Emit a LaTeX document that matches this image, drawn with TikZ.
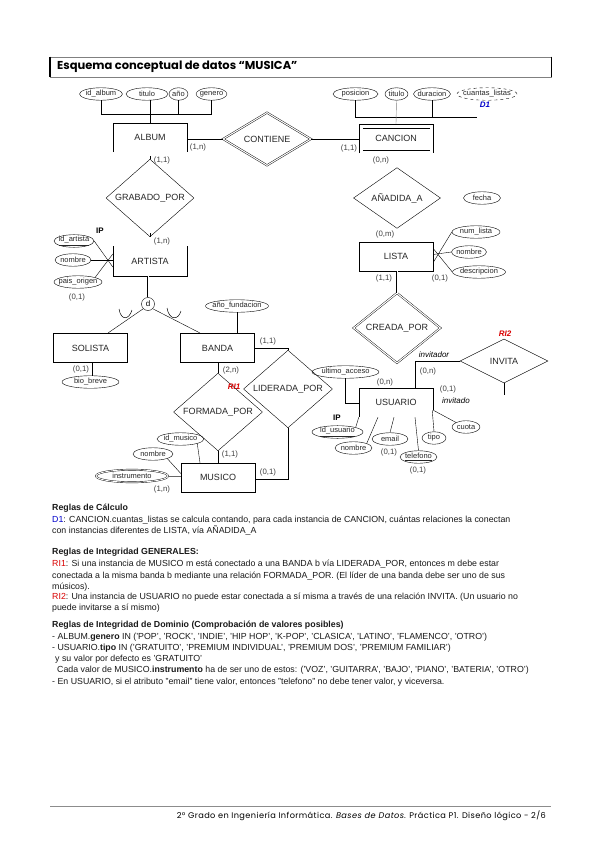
\documentclass[tikz,border=0pt]{standalone}
\usepackage{fontspec}
\setmainfont{Liberation Sans}
\newfontfamily\titlefont{Poppins}
\newfontfamily\footfont[LetterSpace=5]{Poppins}
\usetikzlibrary{shapes.geometric}
\newcommand\atx[1]{\makebox[0pt][c]{#1}}
\begin{document}
\begin{tikzpicture}[x=1pt,y=-1pt,
  lbl/.style={font=\fontsize{9}{10}\selectfont, text=black!85},
  ent/.style={rectangle, draw, minimum width=74pt, minimum height=29pt, inner sep=0pt, lbl},
  entopen/.style={rectangle, minimum width=74pt, minimum height=29pt, inner sep=0pt, lbl},
  rel/.style={diamond, draw, inner sep=0pt, lbl},
  wrel/.style={rel, double, double distance=1.1pt},
  attr/.style={ellipse, draw, inner sep=0pt, minimum height=12.5pt, font=\fontsize{7.5}{8}\selectfont, text=black!85},
  card/.style={font=\fontsize{7.8}{9}\selectfont, text=black!75, inner sep=0pt},
  txt/.style={anchor=base west, font=\fontsize{8.8}{10}\selectfont, inner sep=0pt, text=black!90},
  cup/.style={line width=0.5pt}
]
\useasboundingbox (0,0) rectangle (599,848);
\fill[white] (0,0) rectangle (599,848);

% title
\node[draw=black!50, line width=0.6pt, minimum width=501pt, minimum height=20pt, inner sep=0pt] (tbox) at (300.5,67) {};
\draw[line width=1.6pt] (tbox.north west) -- (tbox.south west);
\draw[line width=1.4pt] (tbox.north east) -- (tbox.south east);
\node[anchor=west, inner sep=0pt, font=\titlefont\bfseries\fontsize{11.5}{13}\selectfont] (title) at (57,67) {Esquema conceptual de datos “MUSICA”};

% ---------- ALBUM
\node[entopen] (album) at (150,137.5) {ALBUM};
\draw (album.south west) -- (album.north west) -- (album.north east) -- (album.south east);
\node[attr, minimum width=43pt] (ida) at (101,94) {\atx{id\_album}};
\node[attr, minimum width=42pt] (atit) at (147,94) {\atx{titulo}};
\node[attr, minimum width=19pt] (ano) at (178.5,94) {\atx{año}};
\node[attr, minimum width=31pt] (gen) at (211.5,94) {\atx{genero}};
\coordinate (ah1) at (101,114);
\coordinate (ah2) at (211.5,114);
\coordinate (ah3) at (150,114);
\draw (ida.south) -- (ah1) -- (ah2);
\draw (ano.south) -- (ano.south |- ah1);
\draw (gen.south) -- (ah2);
\draw (atit.south -| ah3) -- (album.north);

% ---------- CONTIENE
\node[wrel, minimum width=88pt, minimum height=30pt] (contiene) at (267,139) {CONTIENE};
\draw (album.east |- contiene.west) -- (contiene.west);

% ---------- CANCION
\node[entopen] (cancion) at (396,138.5) {CANCION};
\draw (cancion.south west) -- (cancion.north west) -- (cancion.north east) -- (cancion.south east);
\draw ([xshift=4pt,yshift=-4pt]cancion.north west) -- ([xshift=-3pt,yshift=-4pt]cancion.north east);
\draw ([xshift=4pt,yshift=3pt]cancion.south west) -- ([xshift=-3pt,yshift=3pt]cancion.south east);
\draw (contiene.east) -- (contiene.east -| cancion.west);
\node[attr, minimum width=45pt] (pos) at (355.5,94) {\atx{posicion}};
\node[attr, minimum width=23pt] (ctit) at (396.5,94) {\atx{titulo}};
\node[attr, minimum width=37pt] (dur) at (432,94) {\atx{duracion}};
\node[attr, dashed, minimum width=60pt] (cl) at (487,94) {\atx{cuantas\_listas}};
\coordinate (ch1) at (355.5,117);
\coordinate (ch2) at (477,117);
\draw (pos.south) -- (ch1) -- (ch2);
\draw (dur.south) -- (dur.south |- ch1);
\draw[black!50] (ctit.south) -- (cancion.north);
\node[font=\bfseries\itshape\fontsize{8}{9}\selectfont, text=blue!80!black, inner sep=0pt] (d1) at (485,105) {D1};

\node[card] (c1) at (198,147) {(1,n)};
\node[card] (c2) at (349,148) {(1,1)};
\node[card] (c3) at (381,160) {(0,n)};

% ---------- GRABADO_POR
\node[rel, minimum width=88pt, minimum height=44pt] (grabado) at (150,198) {GRABADO\_POR};
\coordinate (gtop) at (150,156);
\coordinate (gbot) at (150,233);
\draw (gtop) -- (grabado.north);
\draw (grabado.south) -- (gbot);
\node[card] (c4) at (162,160) {(1,1)};
\node[card] (c5) at (162,241) {(1,n)};

% ---------- ARTISTA
\node[entopen] (artista) at (150,261) {ARTISTA};
\draw (artista.north west) -- (artista.south west) -- (artista.south east) -- (artista.north east);
\node[font=\bfseries\fontsize{8}{9}\selectfont, inner sep=0pt] (ip1) at (100,231) {IP};
\node[attr, minimum width=40pt] (idar) at (74,241) {\atx{\underline{id\_artista}}};
\node[attr, minimum width=36pt] (nomar) at (73,260) {\atx{nombre}};
\node[attr, minimum width=48pt] (pais) at (78,282) {\atx{pais\_origen}};
\node[card] (c6) at (77,297) {(0,1)};
\draw (idar.east) -- ([yshift=-6pt]artista.west);
\draw[line width=0.9pt] (nomar.east) -- (nomar.east -| artista.west);
\draw (pais.north east) -- ([yshift=7pt]artista.west);

% specialization
\node[circle, draw, minimum size=13pt, inner sep=0pt, font=\fontsize{8}{9}\selectfont] (dcirc) at (148,304) {d};
\draw[double, double distance=1pt] (dcirc.north |- artista.south) -- (dcirc.north);
\node[ent] (solista) at (90.5,348) {SOLISTA};
\node[ent] (banda) at (217.5,348) {BANDA};
\coordinate (sp1) at (108,333);
\coordinate (sp2) at (200,333);
\draw (dcirc.south west) -- (sp1);
\draw (dcirc.south east) -- (sp2);
\draw[cup] (119,309) .. controls (121,321) and (129,320) .. (132,310);
\draw[cup] (167,308) .. controls (169,320) and (178,321) .. (181,311);

\node[card] (c7) at (81,369) {(0,1)};
\node[attr, minimum width=57pt] (bio) at (90.5,382) {\atx{bio\_breve}};
\coordinate (sb) at (92,363);
\draw (sb) -- (sb |- bio.north);

\node[attr, minimum width=63pt] (afun) at (237,306) {\atx{año\_fundacion}};
\draw[line width=0.9pt] (afun.south) -- (afun.south |- banda.north);

% LIDERADA_POR
\node[rel, minimum width=89pt, minimum height=43pt] (liderada) at (288,389) {LIDERADA\_POR};
\node[card] (c8) at (268,341) {(1,1)};
\draw (banda.east) -| (liderada.north);

% FORMADA_POR
\node[rel, minimum width=89pt, minimum height=45pt] (formada) at (218,412) {FORMADA\_POR};
\node[card] (c9) at (231,370) {(2,n)};
\node[font=\bfseries\itshape\fontsize{8}{9}\selectfont, text=red!85!black, inner sep=0pt] (ri1) at (234,387) {RI1};
\draw (formada.north |- banda.south) -- (formada.north);

% MUSICO
\node[ent] (musico) at (218,477.5) {MUSICO};
\draw (formada.south) -- (musico.north);
\node[card] (c10) at (230,454) {(1,1)};
\draw (liderada.south) |- ([yshift=-2pt]musico.east);
\node[card] (c11) at (268,472) {(0,1)};
\node[attr, minimum width=47pt] (idmu) at (180.5,439) {\atx{id\_musico}};
\node[attr, minimum width=40pt] (nommu) at (153,454) {\atx{nombre}};
\node[attr, double, double distance=0.9pt, minimum width=72pt] (instr) at (132,476) {\atx{instrumento}};
\node[card] (c12) at (162,489) {(1,n)};
\draw (idmu.south east) -- ([xshift=-18pt]musico.north);
\draw (nommu.south east) -- ([yshift=4pt]musico.west);
\draw[black!60] (instr.east) -- (instr.east -| musico.west);

% ---------- AÑADIDA_A
\node[rel, minimum width=87pt, minimum height=44pt] (anadida) at (397,198) {AÑADIDA\_A};
\node[attr, minimum width=37pt] (fecha) at (482,198) {\atx{fecha}};

% ---------- LISTA
\node[ent] (lista) at (396,256.5) {LISTA};
\node[card] (c13) at (385,234) {(0,m)};
\node[card] (c14) at (384,278) {(1,1)};
\node[card] (c15) at (440,278) {(0,1)};
\node[attr, minimum width=48pt] (numl) at (476,232) {\atx{num\_lista}};
\node[attr, minimum width=35pt] (noml) at (469,252) {\atx{nombre}};
\node[attr, minimum width=53pt] (desc) at (479,272) {\atx{descripcion}};
\draw ([yshift=-6pt]lista.east) -- (numl.west);
\draw ([yshift=2pt]lista.east) -- (noml.west);
\draw ([yshift=8pt]lista.east) -- (desc.west);

% CREADA_POR
\node[wrel, minimum width=87pt, minimum height=40pt] (creada) at (397,328) {CREADA\_POR};
\draw[double, double distance=1pt] (creada.north |- lista.south) -- (creada.north);

% ---------- INVITA
\node[rel, minimum width=88pt, minimum height=44pt] (invita) at (504,361) {INVITA};
\node[font=\bfseries\itshape\fontsize{8}{9}\selectfont, text=red!85!black, inner sep=0pt] (ri2) at (505,334) {RI2};
\coordinate (istub) at (504,395);
\draw (invita.south) -- (istub);

% ---------- USUARIO
\node[entopen] (usuario) at (396,402.5) {USUARIO};
\draw (usuario.south west) -- (usuario.north west) -- (usuario.north east) -- ([yshift=7pt]usuario.south east);
\coordinate (ibend) at (415,361);
\draw (invita.west) -- (ibend) -- (ibend |- usuario.north);
\node[font=\itshape\fontsize{8}{9}\selectfont, inner sep=0pt] (invr) at (434,355) {invitador};
\node[card] (c16) at (428,371) {(0,n)};
\node[card] (c17) at (448,389) {(0,1)};
\node[font=\itshape\fontsize{8}{9}\selectfont, inner sep=0pt] (invd) at (456,401) {invitado};
\node[card] (c18) at (385,382) {(0,n)};

\node[attr, minimum width=67pt] (ult) at (345.5,372) {\atx{ultimo\_acceso}};
\coordinate (ub) at (345.5,403);
\draw (ult.south) -- (ub) -- (ub -| usuario.west);
\node[font=\bfseries\fontsize{8}{9}\selectfont, inner sep=0pt] (ip2) at (337,418) {IP};
\node[attr, minimum width=51pt] (idus) at (337.5,432) {\atx{\underline{id\_usuario}}};
\node[attr, minimum width=37pt] (nomus) at (353.5,448) {\atx{nombre}};
\node[attr, minimum width=36pt] (email) at (390,439) {\atx{email}};
\node[attr, minimum width=37pt] (tel) at (418.5,457) {\atx{\underline{telefono}}};
\node[attr, minimum width=24pt] (tipo) at (434,438) {\atx{tipo}};
\node[attr, minimum width=28pt] (cuota) at (466,427) {\atx{cuota}};
\node[card] (c19) at (389,452) {(0,1)};
\node[card] (c20) at (418,470) {(0,1)};
\draw (idus.north east) -- (usuario.south west);
\draw (nomus.north east) -- ([xshift=-18pt]usuario.south);
\draw (email.north) -- ([xshift=-2pt]usuario.south);
\draw (tel.north) -- ([xshift=19pt]usuario.south);
\draw (tipo.north) -- ([xshift=-1pt, yshift=7pt]usuario.south east);
\draw (cuota.north west) -- ([yshift=7pt]usuario.south east);

% ---------- text block
\node[txt] (t1) at (52,510) {\textbf{Reglas de Cálculo}};
\node[txt] (t2) at (52,522) {\textcolor{blue!80!black}{D1}: CANCION.cuantas\_listas se calcula contando, para cada instancia de CANCION, cuántas relaciones la conectan};
\node[txt] (t3) at (52,533) {con instancias diferentes de LISTA, vía AÑADIDA\_A};
\node[txt] (t4) at (52,554) {\textbf{Reglas de Integridad GENERALES:}};
\node[txt] (t5) at (52,566) {\textcolor{red!85!black}{RI1}: Si una instancia de MUSICO m está conectado a una BANDA b vía LIDERADA\_POR, entonces m debe estar};
\node[txt] (t6) at (52,578) {conectada a la misma banda b mediante una relación FORMADA\_POR. (El líder de una banda debe ser uno de sus};
\node[txt] (t7) at (52,589) {músicos).};
\node[txt] (t8) at (52,599) {\textcolor{red!85!black}{RI2}: Una instancia de USUARIO no puede estar conectada a sí misma a través de una relación INVITA. (Un usuario no};
\node[txt] (t9) at (52,610) {puede invitarse a sí mismo)};
\node[txt] (t10) at (52,627) {\textbf{Reglas de Integridad de Dominio (Comprobación de valores posibles)}};
\node[txt] (t11) at (52,639) {- ALBUM.\textbf{genero} IN ('POP', 'ROCK', 'INDIE', 'HIP HOP', 'K-POP', 'CLASICA', 'LATINO', 'FLAMENCO', 'OTRO')};
\node[txt] (t12) at (52,650) {- USUARIO.\textbf{tipo} IN ('GRATUITO', 'PREMIUM INDIVIDUAL', 'PREMIUM DOS', 'PREMIUM FAMILIAR')};
\node[txt] (t13) at (55,661) {y su valor por defecto es 'GRATUITO'};
\node[txt] (t14) at (57,672) {Cada valor de MUSICO.\textbf{instrumento} ha de ser uno de estos: ('VOZ', 'GUITARRA', 'BAJO', 'PIANO', 'BATERIA', 'OTRO')};
\node[txt] (t15) at (52,684) {- En USUARIO, si el atributo "email" tiene valor, entonces "telefono" no debe tener valor, y viceversa.};

% ---------- footer
\coordinate (fl1) at (50,806);
\coordinate (fl2) at (551,806);
\draw[black!45, line width=0.6pt] (fl1) -- (fl2);
\node[anchor=base east, inner sep=0pt, font=\footfont\fontsize{8.2}{9}\selectfont] (foot) at (546,818) {2º Grado en Ingeniería Informática. \textit{Bases de Datos}. Práctica P1. Diseño lógico - 2/6};
\end{tikzpicture}
\end{document}
